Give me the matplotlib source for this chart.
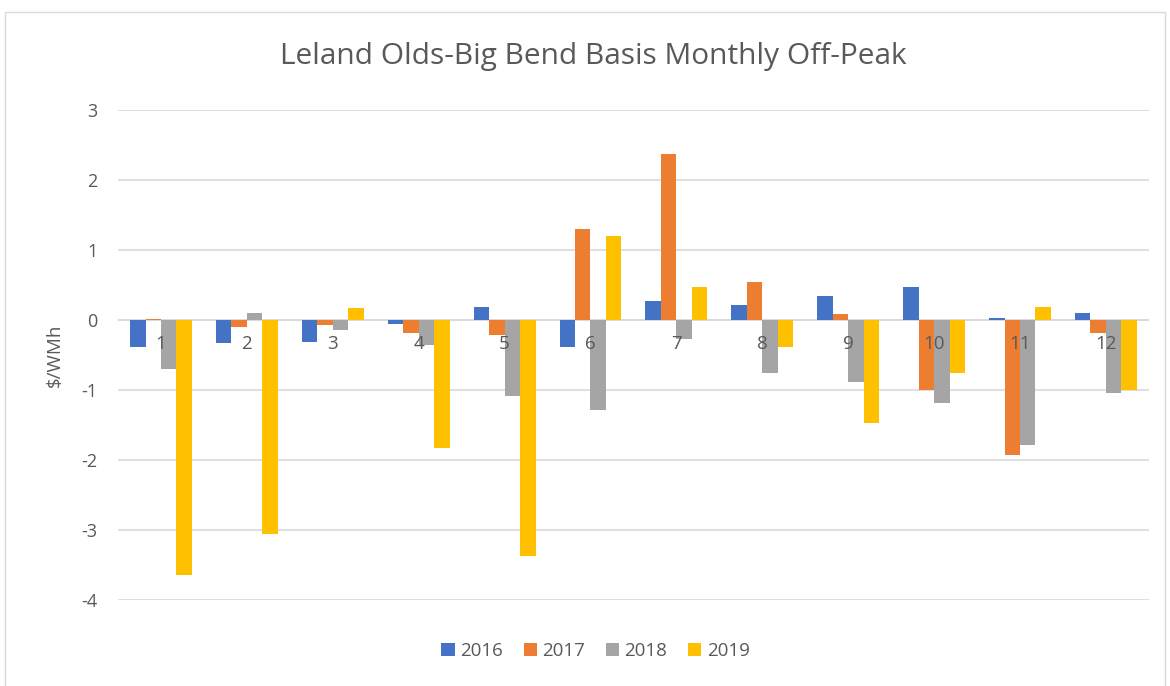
import numpy as np
import matplotlib
matplotlib.use("Agg")
import matplotlib.pyplot as plt
from matplotlib.patches import Rectangle

months = [str(m) for m in range(1, 13)]
years = ["2016", "2017", "2018", "2019"]
v2016 = [-0.38, -0.33, -0.32, -0.05, 0.18, -0.38, 0.27, 0.22, 0.34, 0.48, 0.03, 0.10]
v2017 = [0.02, -0.10, -0.07, -0.19, -0.21, 1.30, 2.37, 0.54, 0.09, -1.00, -1.93, -0.19]
v2018 = [-0.70, 0.10, -0.14, -0.35, -1.09, -1.29, -0.27, -0.75, -0.88, -1.18, -1.78, -1.04]
v2019 = [-3.65, -3.06, 0.17, -1.83, -3.37, 1.20, 0.47, -0.38, -1.47, -0.75, 0.18, -1.00]
colors = ["#4472C4", "#ED7D31", "#A5A5A5", "#FFC000"]

plt.rcParams['font.family'] = ['Open Sans', 'DejaVu Sans']
plt.rcParams['axes.unicode_minus'] = False
fig = plt.figure(figsize=(11.7, 6.86), dpi=100)
fig.patch.set_facecolor("white")
# outer chart frame
fig.patches.append(Rectangle((0.004, -0.01), 0.992, 0.993, transform=fig.transFigure,
                             fill=False, edgecolor="#d9d9d9", linewidth=1))

ax = fig.add_axes([0.1009, 0.1254, 0.881, 0.714])
x = np.arange(len(months))
w = 0.18
for i, (vals, c, lab) in enumerate(zip([v2016, v2017, v2018, v2019], colors, years)):
    ax.bar(x + (i - 1.5) * w, vals, width=w, color=c, label=lab, zorder=3)

ax.set_xlim(-0.5, 11.5)
ax.set_ylim(-4, 3)
ax.set_yticks(range(-4, 4))
ax.grid(axis="y", color="#d9d9d9", linewidth=1.2, zorder=0)
ax.axhline(0, color="#d9d9d9", linewidth=1.2, zorder=1)
for s in ax.spines.values():
    s.set_visible(False)
ax.tick_params(axis="both", length=0, labelsize=13, labelcolor="#595959")
ax.tick_params(axis="y", pad=15)
ax.set_xticks(x)
ax.set_xticklabels([])
for xi, m in zip(x, months):
    ax.text(xi, -0.22, m, ha="center", va="top", fontsize=13.5, color="#595959", zorder=4)
ax.set_ylabel("$/WMh", fontsize=13.5, color="#595959", labelpad=12)

fig.text(0.507, 0.917, "Leland Olds-Big Bend Basis Monthly Off-Peak",
         ha="center", va="center", fontsize=21.5, color="#595959")

leg = fig.legend(loc="center", bbox_to_anchor=(0.509, 0.051), ncol=4, frameon=False,
                 fontsize=13.5, handlelength=0.7, handleheight=0.7, handletextpad=0.3,
                 columnspacing=1.1)
for t in leg.get_texts():
    t.set_color("#595959")

fig.savefig("out.png", dpi=100)
